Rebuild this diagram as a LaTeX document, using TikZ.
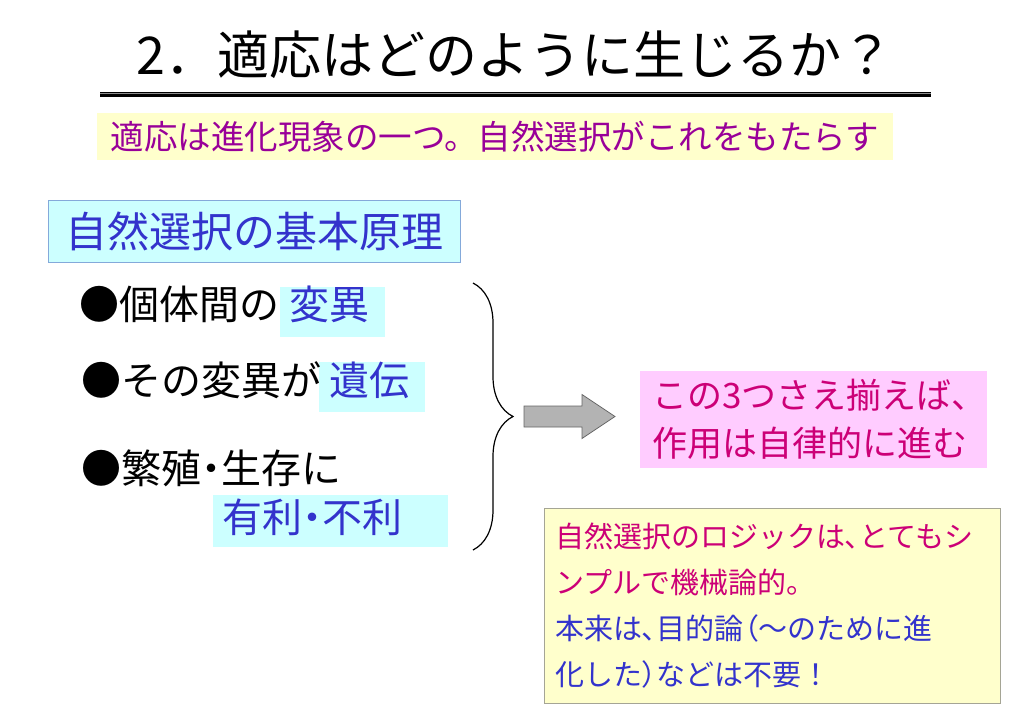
\documentclass[tikz,border=0pt]{standalone}
\usepackage{fontspec}
\setmainfont{Noto Sans CJK JP}
\newfontfamily\jpprop[RawFeature=+palt]{Noto Sans CJK JP}
\usepackage{xcolor}
\usetikzlibrary{positioning, calc, backgrounds, decorations.pathreplacing}

\definecolor{bandyellow}{HTML}{FFFFCC}
\definecolor{bandpurple}{HTML}{990099}
\definecolor{keyblue}{HTML}{3333CC}
\definecolor{hlcyan}{HTML}{CCFFFF}
\definecolor{edgeblue}{HTML}{84A9DA}
\definecolor{notepink}{HTML}{FFCCFF}
\definecolor{notemagenta}{HTML}{CC0077}
\definecolor{noteedge}{HTML}{A5A595}
\definecolor{arrowgray}{HTML}{B3B3B3}

\newcommand{\pdot}{{\jpprop ・}}

\begin{document}
\begin{tikzpicture}[
    x=1pt, y=-1pt,
    big/.style={inner sep=0pt, font=\fontsize{40}{48}\selectfont, anchor=west, text height=35.2pt, text depth=4.8pt},
    keyword/.style={big, text=keyblue},
    hlbox/.style={fill=hlcyan},
    bracepath/.style={decorate, decoration={brace, amplitude=40pt}, line width=1.2pt},
    blockarrow/.style={fill=arrowgray, draw=black!60, line width=0.8pt, line join=miter}
]
  \useasboundingbox (0,0) rectangle (1023,724);

  % Title and double rule
  \node[inner sep=0pt, font=\fontsize{52}{60}\selectfont, text height=45.8pt, text depth=6.2pt]
        (title) at (515,55) {2．適応はどのように生じるか？};
  \coordinate (ruleL) at (100,94.3);
  \coordinate (ruleR) at (931,94.3);
  \draw[black!45, line width=5pt] (ruleL) -- (ruleR);
  \draw[line width=1.3pt] ([yshift=1.8pt]ruleL) -- ([yshift=1.8pt]ruleR);
  \draw[line width=2.6pt] ([yshift=-1.2pt]ruleL) -- ([yshift=-1.2pt]ruleR);

  % Lead line on yellow band
  \node[inner sep=0pt, fill=bandyellow, text=bandpurple, font=\fontsize{33.5}{40}\selectfont,
        text height=29.5pt, text depth=4pt, minimum width=796, minimum height=47]
        (lead) at (495,136.5) {適応は進化現象の一つ。自然選択がこれをもたらす};

  % Principle heading
  \node[inner sep=0pt, fill=hlcyan, draw=edgeblue, line width=1pt, text=keyblue,
        font=\fontsize{42}{50}\selectfont, text height=37pt, text depth=5pt,
        minimum width=412, minimum height=62] (principle) at (254,231) {自然選択の基本原理};

  % Three conditions
  \node[big] (varA) at (79,304) {●個体間の};
  \node[keyword, right=10pt of varA] (varB) {変異};
  \node[big] (herA) at (81,380) {●その変異が};
  \node[keyword, right=8pt of herA] (herB) {遺伝};
  \node[big] (fitA) at (81,468) {●繁殖\pdot 生存に};
  \node[keyword] (fitB) at (222,517) {有利\pdot 不利};

  \begin{scope}[on background layer]
    \fill[hlbox] ($(varB.north west)+(-9,3)$) rectangle ($(varB.south east)+(15,13)$);
    \fill[hlbox] ($(herB.north west)+(-10,2)$) rectangle ($(herB.south east)+(15,12)$);
    \fill[hlbox] ($(fitB.north west)+(-9,-2)$) rectangle ($(fitB.south east)+(46,10)$);
  \end{scope}

  % Brace and block arrow
  \coordinate (braceTop) at (473,283);
  \coordinate (braceBot) at (473,550);
  \draw[bracepath] (braceTop) -- (braceBot);
  \coordinate (arrowTail) at (524,416.5);
  \draw[blockarrow] (arrowTail) ++(0,-10.5) -- ++(58,0) -- ++(0,-11.5) -- ++(33,22)
        -- ++(-33,22) -- ++(0,-11.5) -- ++(-58,0) -- cycle;

  % Conclusion note
  \node[fill=notepink, minimum width=347, minimum height=97, anchor=north west] (autoBox) at (640,371) {};
  \node[inner sep=0pt, anchor=west, align=left, text=notemagenta, font=\fontsize{35}{48}\selectfont]
        (autoText) at ([xshift=12pt]autoBox.west) {この3つさえ揃えば、\\作用は自律的に進む};

  % Remark note
  \node[fill=bandyellow, draw=noteedge, line width=1pt, minimum width=456, minimum height=195,
        anchor=north west] (logicBox) at (544,508) {};
  \node[inner sep=0pt, anchor=west, align=left, font=\fontsize{29}{46}\selectfont]
        (logicText) at ([xshift=11pt]logicBox.west)
        {\textcolor{notemagenta}{自然選択のロジックは{\jpprop 、}とてもシ}\\
         \textcolor{notemagenta}{ンプルで機械論的。}\\
         \textcolor{keyblue}{本来は{\jpprop 、}目的論{\jpprop （}〜のために進}\\
         \textcolor{keyblue}{化した{\jpprop ）}などは不要！}};

\end{tikzpicture}
\end{document}
